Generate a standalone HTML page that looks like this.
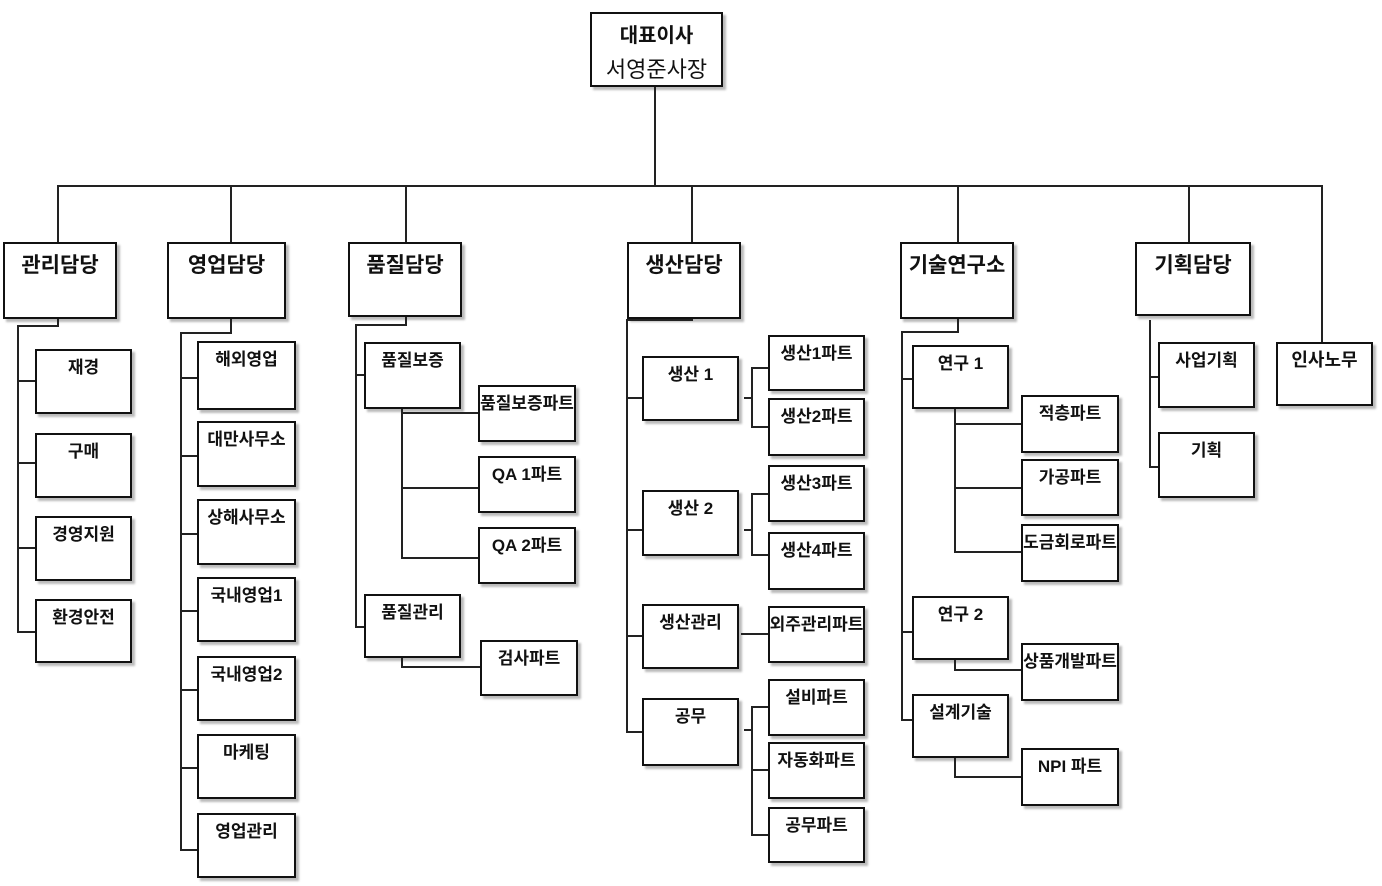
<!DOCTYPE html>
<html><head><meta charset="utf-8"><style>
body{margin:0;width:1382px;height:886px;background:#fff;position:relative;overflow:hidden;font-family:"Liberation Sans","Noto Sans CJK KR","NanumGothic",sans-serif;}
.b{position:absolute;box-sizing:border-box;border:2px solid #111;background:#fff;box-shadow:3px 3px 2px #bbb;text-align:center;font-weight:bold;font-size:17px;color:#111;white-space:nowrap;display:flex;justify-content:center;padding-top:2px;}
.b span{display:block}
.L{font-size:21px;padding-top:5px}
.l{position:absolute;background:#222}
</style></head><body>
<!-- top -->
<div class="b" style="left:590px;top:12px;width:133px;height:75px;flex-direction:column;align-items:center;padding-top:4px;font-size:20px"><span>대표이사</span><span style="font-weight:normal;font-size:22px;margin-top:4px">서영준사장</span></div>
<div class="l" style="left:654px;top:87px;width:2px;height:100px"></div>
<div class="l" style="left:57px;top:185px;width:1266px;height:2px"></div>
<div class="l" style="left:57px;top:185px;width:2px;height:57px"></div>
<div class="l" style="left:230px;top:185px;width:2px;height:57px"></div>
<div class="l" style="left:405px;top:185px;width:2px;height:57px"></div>
<div class="l" style="left:691px;top:185px;width:2px;height:57px"></div>
<div class="l" style="left:957px;top:185px;width:2px;height:57px"></div>
<div class="l" style="left:1188px;top:185px;width:2px;height:57px"></div>
<div class="l" style="left:1321px;top:185px;width:2px;height:157px"></div>

<div class="b L" style="left:3px;top:242px;width:114px;height:77px">관리담당</div>
<div class="b L" style="left:167px;top:242px;width:119px;height:77px">영업담당</div>
<div class="b L" style="left:348px;top:242px;width:114px;height:75px">품질담당</div>
<div class="b L" style="left:627px;top:242px;width:114px;height:77px">생산담당</div>
<div class="b L" style="left:900px;top:242px;width:114px;height:77px">기술연구소</div>
<div class="b L" style="left:1135px;top:242px;width:116px;height:74px">기획담당</div>
<div class="b" style="left:1276px;top:342px;width:97px;height:64px;font-size:18px">인사노무</div>

<!-- 관리 -->
<div class="l" style="left:57px;top:319px;width:2px;height:7px"></div>
<div class="l" style="left:17px;top:325px;width:42px;height:2px"></div>
<div class="l" style="left:17px;top:325px;width:2px;height:308px"></div>
<div class="l" style="left:17px;top:380px;width:18px;height:2px"></div>
<div class="l" style="left:17px;top:462px;width:18px;height:2px"></div>
<div class="l" style="left:17px;top:547px;width:18px;height:2px"></div>
<div class="l" style="left:17px;top:631px;width:18px;height:2px"></div>
<div class="b" style="left:35px;top:349px;width:97px;height:65px">재경</div>
<div class="b" style="left:35px;top:433px;width:97px;height:65px">구매</div>
<div class="b" style="left:35px;top:516px;width:97px;height:65px">경영지원</div>
<div class="b" style="left:35px;top:599px;width:97px;height:64px">환경안전</div>

<!-- 영업 -->
<div class="l" style="left:230px;top:319px;width:2px;height:15px"></div>
<div class="l" style="left:180px;top:332px;width:52px;height:2px"></div>
<div class="l" style="left:180px;top:332px;width:2px;height:519px"></div>
<div class="l" style="left:180px;top:377px;width:17px;height:2px"></div>
<div class="l" style="left:180px;top:455px;width:17px;height:2px"></div>
<div class="l" style="left:180px;top:533px;width:17px;height:2px"></div>
<div class="l" style="left:180px;top:610px;width:17px;height:2px"></div>
<div class="l" style="left:180px;top:689px;width:17px;height:2px"></div>
<div class="l" style="left:180px;top:767px;width:17px;height:2px"></div>
<div class="l" style="left:180px;top:849px;width:17px;height:2px"></div>
<div class="b" style="left:197px;top:341px;width:99px;height:69px">해외영업</div>
<div class="b" style="left:197px;top:421px;width:99px;height:66px">대만사무소</div>
<div class="b" style="left:197px;top:499px;width:99px;height:66px">상해사무소</div>
<div class="b" style="left:197px;top:577px;width:99px;height:65px">국내영업1</div>
<div class="b" style="left:197px;top:656px;width:99px;height:65px">국내영업2</div>
<div class="b" style="left:197px;top:734px;width:99px;height:65px">마케팅</div>
<div class="b" style="left:197px;top:813px;width:99px;height:65px">영업관리</div>

<!-- 품질 -->
<div class="l" style="left:405px;top:317px;width:2px;height:9px"></div>
<div class="l" style="left:355px;top:324px;width:52px;height:2px"></div>
<div class="l" style="left:355px;top:324px;width:2px;height:304px"></div>
<div class="l" style="left:355px;top:374px;width:9px;height:2px"></div>
<div class="l" style="left:355px;top:626px;width:9px;height:2px"></div>
<div class="b" style="left:364px;top:342px;width:97px;height:67px">품질보증</div>
<div class="b" style="left:364px;top:594px;width:97px;height:64px">품질관리</div>
<div class="l" style="left:401px;top:409px;width:2px;height:150px"></div>
<div class="l" style="left:401px;top:412px;width:77px;height:2px"></div>
<div class="l" style="left:401px;top:487px;width:77px;height:2px"></div>
<div class="l" style="left:401px;top:557px;width:77px;height:2px"></div>
<div class="b" style="left:478px;top:385px;width:98px;height:57px">품질보증파트</div>
<div class="b" style="left:478px;top:456px;width:98px;height:57px">QA 1파트</div>
<div class="b" style="left:478px;top:527px;width:98px;height:57px">QA 2파트</div>
<div class="l" style="left:401px;top:658px;width:2px;height:10px"></div>
<div class="l" style="left:401px;top:666px;width:79px;height:2px"></div>
<div class="b" style="left:480px;top:640px;width:98px;height:56px">검사파트</div>

<!-- 생산 -->
<div class="l" style="left:691px;top:319px;width:2px;height:2px"></div>
<div class="l" style="left:626px;top:319px;width:67px;height:2px"></div>
<div class="l" style="left:626px;top:319px;width:2px;height:414px"></div>
<div class="l" style="left:626px;top:397px;width:16px;height:2px"></div>
<div class="l" style="left:626px;top:529px;width:16px;height:2px"></div>
<div class="l" style="left:626px;top:635px;width:16px;height:2px"></div>
<div class="l" style="left:626px;top:731px;width:16px;height:2px"></div>
<div class="b" style="left:642px;top:356px;width:97px;height:65px">생산 1</div>
<div class="b" style="left:642px;top:490px;width:97px;height:66px">생산 2</div>
<div class="b" style="left:642px;top:604px;width:97px;height:65px">생산관리</div>
<div class="b" style="left:642px;top:698px;width:97px;height:68px">공무</div>
<div class="l" style="left:744px;top:397px;width:8px;height:2px"></div>
<div class="l" style="left:751px;top:367px;width:2px;height:60px"></div>
<div class="l" style="left:751px;top:367px;width:17px;height:2px"></div>
<div class="l" style="left:751px;top:426px;width:17px;height:2px"></div>
<div class="l" style="left:744px;top:529px;width:8px;height:2px"></div>
<div class="l" style="left:751px;top:493px;width:2px;height:62px"></div>
<div class="l" style="left:751px;top:493px;width:17px;height:2px"></div>
<div class="l" style="left:751px;top:554px;width:17px;height:2px"></div>
<div class="l" style="left:741px;top:633px;width:27px;height:2px"></div>
<div class="l" style="left:744px;top:729px;width:8px;height:2px"></div>
<div class="l" style="left:751px;top:706px;width:2px;height:130px"></div>
<div class="l" style="left:751px;top:706px;width:17px;height:2px"></div>
<div class="l" style="left:751px;top:769px;width:17px;height:2px"></div>
<div class="l" style="left:751px;top:834px;width:17px;height:2px"></div>
<div class="b" style="left:768px;top:335px;width:97px;height:56px">생산1파트</div>
<div class="b" style="left:768px;top:398px;width:97px;height:58px">생산2파트</div>
<div class="b" style="left:768px;top:465px;width:97px;height:57px">생산3파트</div>
<div class="b" style="left:768px;top:532px;width:97px;height:58px">생산4파트</div>
<div class="b" style="left:768px;top:606px;width:97px;height:57px">외주관리파트</div>
<div class="b" style="left:768px;top:679px;width:97px;height:57px">설비파트</div>
<div class="b" style="left:768px;top:742px;width:97px;height:57px">자동화파트</div>
<div class="b" style="left:768px;top:807px;width:97px;height:56px">공무파트</div>

<!-- 기술연구소 -->
<div class="l" style="left:957px;top:319px;width:2px;height:14px"></div>
<div class="l" style="left:901px;top:331px;width:58px;height:2px"></div>
<div class="l" style="left:901px;top:331px;width:2px;height:390px"></div>
<div class="l" style="left:901px;top:378px;width:11px;height:2px"></div>
<div class="l" style="left:901px;top:631px;width:11px;height:2px"></div>
<div class="l" style="left:901px;top:719px;width:11px;height:2px"></div>
<div class="b" style="left:912px;top:345px;width:97px;height:64px">연구 1</div>
<div class="b" style="left:912px;top:596px;width:97px;height:64px">연구 2</div>
<div class="b" style="left:912px;top:694px;width:97px;height:64px">설계기술</div>
<div class="l" style="left:954px;top:409px;width:2px;height:144px"></div>
<div class="l" style="left:954px;top:423px;width:67px;height:2px"></div>
<div class="l" style="left:954px;top:487px;width:67px;height:2px"></div>
<div class="l" style="left:954px;top:551px;width:67px;height:2px"></div>
<div class="b" style="left:1021px;top:395px;width:98px;height:58px">적층파트</div>
<div class="b" style="left:1021px;top:459px;width:98px;height:57px">가공파트</div>
<div class="b" style="left:1021px;top:524px;width:98px;height:58px">도금회로파트</div>
<div class="l" style="left:954px;top:660px;width:2px;height:11px"></div>
<div class="l" style="left:954px;top:669px;width:67px;height:2px"></div>
<div class="b" style="left:1021px;top:643px;width:98px;height:58px">상품개발파트</div>
<div class="l" style="left:954px;top:758px;width:2px;height:20px"></div>
<div class="l" style="left:954px;top:776px;width:67px;height:2px"></div>
<div class="b" style="left:1021px;top:748px;width:98px;height:58px">NPI 파트</div>

<!-- 기획 -->
<div class="l" style="left:1149px;top:320px;width:2px;height:148px"></div>
<div class="l" style="left:1149px;top:376px;width:9px;height:2px"></div>
<div class="l" style="left:1149px;top:466px;width:9px;height:2px"></div>
<div class="b" style="left:1158px;top:342px;width:97px;height:66px">사업기획</div>
<div class="b" style="left:1158px;top:432px;width:97px;height:66px">기획</div>
</body></html>
